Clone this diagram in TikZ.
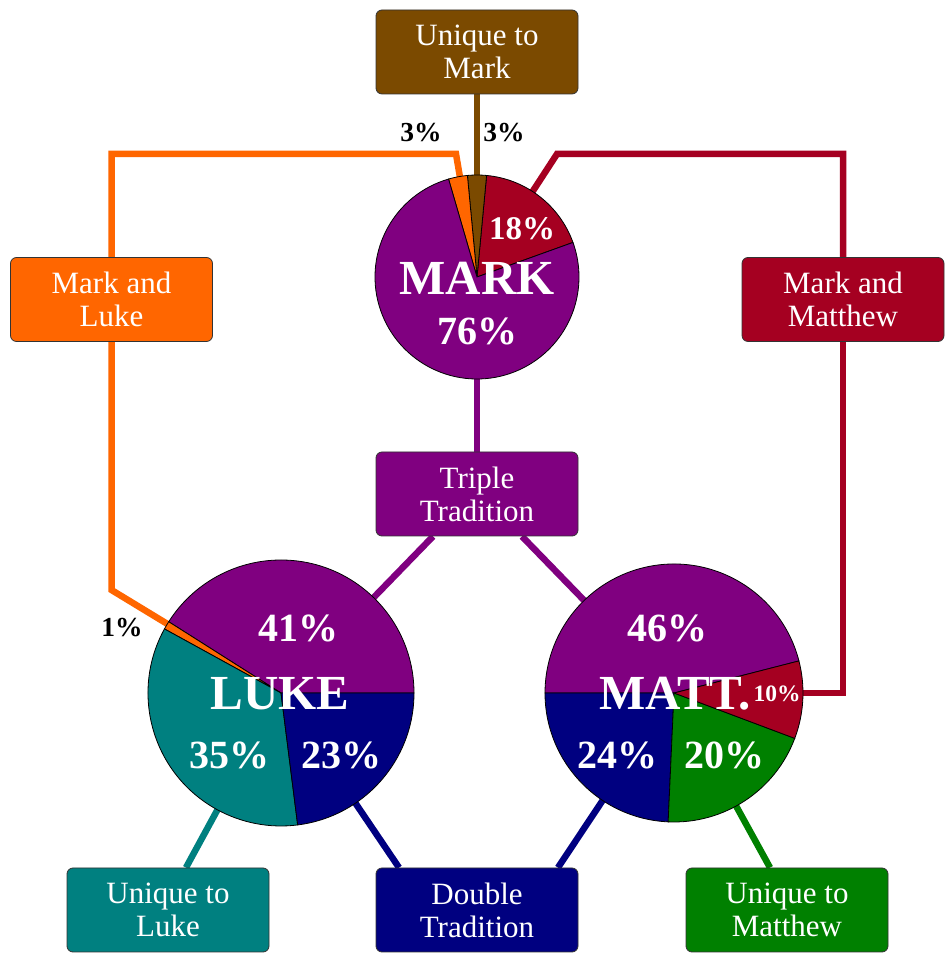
\documentclass[tikz,border=0pt]{standalone}
\usepackage{fontspec}
\setmainfont{Liberation Serif}
\usetikzlibrary{calc,backgrounds}
\definecolor{cpurple}{HTML}{800080}
\definecolor{cnavy}{HTML}{000080}
\definecolor{cteal}{HTML}{008080}
\definecolor{cgreen}{HTML}{008000}
\definecolor{corange}{HTML}{FF6600}
\definecolor{cred}{HTML}{A50021}
\definecolor{cbrown}{HTML}{7B4A00}
\tikzset{
 box/.style={draw=black!80, line width=0.8pt, rounded corners=6pt, minimum width=202pt, minimum height=84pt, inner sep=0pt, text=white, align=center, font=\fontsize{31}{33}\selectfont},
 conn/.style={line width=6.5pt},
 slice/.style={draw=black, line width=0.8pt},
 big/.style={text=white, font=\bfseries\fontsize{49}{50}\selectfont, inner sep=0pt},
 pct/.style={text=white, font=\bfseries\fontsize{40}{40}\selectfont, inner sep=0pt},
 small/.style={text=black, font=\bfseries\fontsize{27.5}{28}\selectfont, inner sep=0pt},
}
\newcommand{\myslice}[5]{\filldraw[slice, fill=#5] (#1) -- ++(#3:#2) arc[start angle=#3, end angle=#4, radius=#2] -- cycle;}
\begin{document}
\begin{tikzpicture}[x=1pt,y=1pt]
\useasboundingbox (0,0) rectangle (951,970);
\coordinate (mark) at (477,693);
\coordinate (luke) at (281,277);
\coordinate (matt) at (674,277);
% pies
\myslice{mark}{102}{19.8}{84.6}{cred}
\myslice{mark}{102}{84.6}{95.4}{cbrown}
\myslice{mark}{102}{95.4}{106.2}{corange}
\myslice{mark}{102}{106.2}{379.8}{cpurple}
\myslice{luke}{133}{0}{147.6}{cpurple}
\myslice{luke}{133}{147.6}{151.2}{corange}
\myslice{luke}{133}{151.2}{277.2}{cteal}
\myslice{luke}{133}{277.2}{360}{cnavy}
\myslice{matt}{129}{14.4}{180}{cpurple}
\myslice{matt}{129}{180}{267.4}{cnavy}
\myslice{matt}{129}{267.4}{339.4}{cgreen}
\myslice{matt}{129}{339.4}{374.4}{cred}
% boxes
\node[box, fill=cbrown] (umark) at (477,918) {Unique to\\Mark};
\node[box, fill=corange] (mluke) at (111.5,670.5) {Mark and\\Luke};
\node[box, fill=cred] (mmatt) at (843,670.5) {Mark and\\Matthew};
\node[box, fill=cpurple] (triple) at (477,476) {Triple\\Tradition};
\node[box, fill=cteal] (uluke) at (168,60) {Unique to\\Luke};
\node[box, fill=cnavy] (double) at (477,60) {Double\\Tradition};
\node[box, fill=cgreen] (umatt) at (787,60) {Unique to\\Matthew};
% labels
\node[big] (lmark) at (477,692) {MARK};
\node[pct] (p76) at (477,639) {76\%};
\node[pct, font=\bfseries\fontsize{33}{34}\selectfont] (p18) at (522,741) {18\%};
\node[small] (p3a) at (421,837) {3\%};
\node[small] (p3b) at (504,837) {3\%};
\node[big] (lluke) at (280,276) {LUKE};
\node[pct] (p41) at (298,342) {41\%};
\node[pct] (p35) at (229,215) {35\%};
\node[pct] (p23) at (341,215) {23\%};
\node[small] (p1) at (122,342) {1\%};
\node[big] (lmatt) at (675,276) {MATT.};
\node[pct] (p46) at (667,342) {46\%};
\node[pct] (p24) at (617,215) {24\%};
\node[pct] (p20) at (724,215) {20\%};
\node[pct, font=\bfseries\fontsize{23.5}{24}\selectfont] (p10) at (777,276) {10\%};
% connectors
\begin{scope}[on background layer]
\fill[white] (0,0) rectangle (951,970);
\draw[conn,cbrown] (umark.south) -- (mark);
\draw[conn,corange] (mluke.north) |- (456,816) -- (mark);
\draw[conn,corange] (mluke.south) -- (111.5,380) -- (luke);
\draw[conn,cred] (mmatt.north) |- (557,816) -- (mark);
\draw[conn,cred] (mmatt.south) |- (matt);
\draw[conn,cpurple] (mark) -- (triple.north);
\draw[conn,cpurple] ([xshift=-44pt]triple.south) -- (luke);
\draw[conn,cpurple] ([xshift=45pt]triple.south) -- (matt);
\draw[conn,cteal] (luke) -- ([xshift=18pt]uluke.north);
\draw[conn,cnavy] (luke) -- ([xshift=-78pt]double.north);
\draw[conn,cnavy] (matt) -- ([xshift=81pt]double.north);
\draw[conn,cgreen] (matt) -- ([xshift=-17pt]umatt.north);
\end{scope}
\end{tikzpicture}
\end{document}
